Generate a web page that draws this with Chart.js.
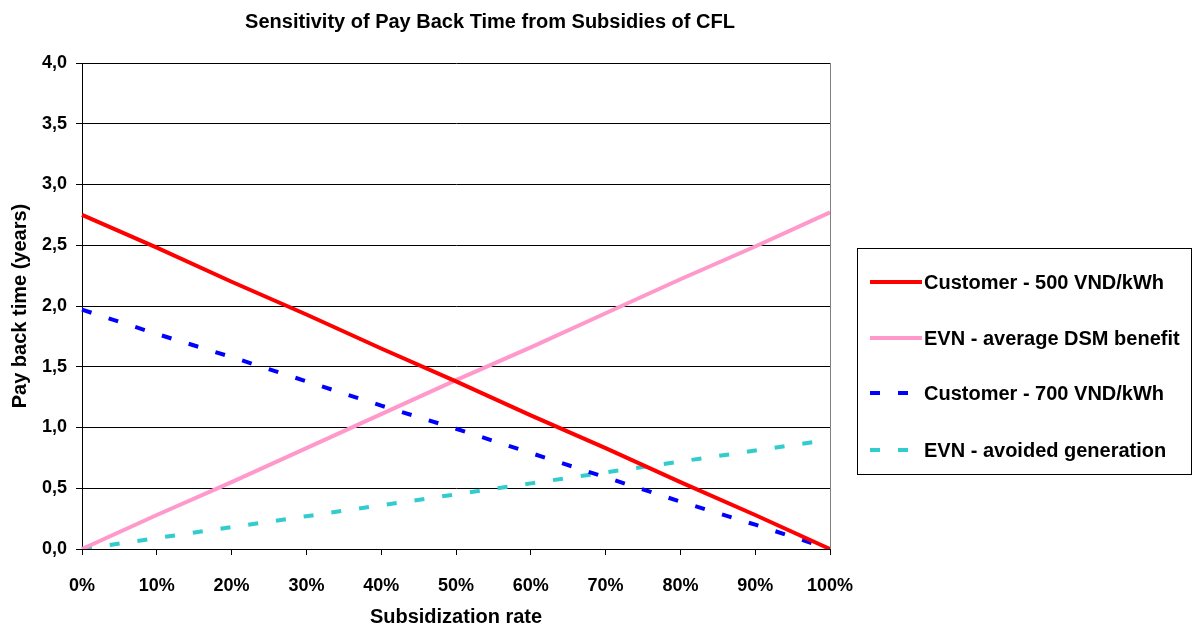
<!DOCTYPE html>
<html>
<head>
<meta charset="utf-8">
<script src="https://cdn.jsdelivr.net/npm/chart.js@4/dist/chart.umd.min.js"></script>
<style>
  html, body { margin: 0; padding: 0; background: #fff; }
  #wrap { width: 1196px; height: 625px; position: relative; }
</style>
</head>
<body>
<div id="wrap"><canvas id="myChart" width="1196" height="625"></canvas></div>
<script>
// subsidization rate (%)
const rates = [0, 10, 20, 30, 40, 50, 60, 70, 80, 90, 100];

// pay back time (years)
const customer500 = [2.75, 2.48, 2.20, 1.93, 1.65, 1.38, 1.10, 0.83, 0.55, 0.28, 0.00];
const evnDsm      = [0.00, 0.28, 0.55, 0.83, 1.11, 1.39, 1.66, 1.94, 2.22, 2.49, 2.77];
const customer700 = [1.97, 1.77, 1.58, 1.38, 1.18, 0.99, 0.79, 0.59, 0.39, 0.20, 0.00];
const evnAvoided  = [0.00, 0.09, 0.18, 0.27, 0.36, 0.45, 0.54, 0.63, 0.72, 0.81, 0.90];

const seriesNames = ["Customer - 500 VND/kWh", "EVN - average DSM benefit",
                     "Customer - 700 VND/kWh", "EVN - avoided generation"];
const titleText = "Sensitivity of Pay Back Time from Subsidies of CFL";

const FONT = "'Liberation Sans', Arial, sans-serif";

// title + boxed legend on the right, like the excel original
const extras = {
  id: "extras",
  afterDraw(chart) {
    const ctx = chart.ctx;
    const a = chart.chartArea;
    ctx.save();
    // right border of plot area
    ctx.strokeStyle = "#808080";
    ctx.lineWidth = 1;
    ctx.beginPath();
    ctx.moveTo(a.right + 0.5, a.top);
    ctx.lineTo(a.right + 0.5, a.bottom);
    ctx.stroke();

    ctx.fillStyle = "#000";
    ctx.font = "bold 20px " + FONT;
    ctx.textAlign = "center";
    ctx.textBaseline = "middle";
    ctx.fillText(titleText, 490, 22);

    // legend box
    ctx.strokeStyle = "#000";
    ctx.strokeRect(857.5, 248.5, 334, 226);
    const rowsY = [282, 338, 393, 450];
    ctx.font = "bold 20px " + FONT;
    ctx.textAlign = "left";
    chart.data.datasets.forEach(function (ds, i) {
      ctx.strokeStyle = ds.borderColor;
      ctx.lineWidth = ds.borderWidth;
      ctx.setLineDash(ds.borderDash || []);
      ctx.beginPath();
      ctx.moveTo(870, rowsY[i]);
      ctx.lineTo(922, rowsY[i]);
      ctx.stroke();
      ctx.setLineDash([]);
      ctx.fillStyle = "#000";
      ctx.fillText(ds.label, 924, rowsY[i] + 1);
    });
    ctx.restore();
  }
};

new Chart("myChart", {
  type: "line",
  data: {
    labels: rates.map(r => r + "%"),
    datasets: [
      { label: seriesNames[0], data: customer500, borderColor: "#FF0000", borderWidth: 4 },
      { label: seriesNames[1], data: evnDsm, borderColor: "#FF99CC", borderWidth: 4 },
      { label: seriesNames[2], data: customer700, borderColor: "#0000FF", borderWidth: 4, borderDash: [10, 18] },
      { label: seriesNames[3], data: evnAvoided, borderColor: "#33CCCC", borderWidth: 4, borderDash: [10, 18] }
    ].map(d => Object.assign(d, { pointRadius: 0, fill: false, tension: 0 }))
  },
  options: {
    responsive: false,
    animation: false,
    layout: { padding: { top: 63, right: 366, left: 0, bottom: 0 } },
    plugins: { legend: { display: false }, title: { display: false }, tooltip: { enabled: false } },
    scales: {
      x: {
        offset: false,
        afterFit: s => { s.height = 76; },
        grid: { drawOnChartArea: false, drawTicks: true, tickLength: 6, color: "#000" },
        border: { color: "#000", width: 1 },
        ticks: { color: "#000", font: { family: FONT, size: 18, weight: "bold" }, padding: 20, maxRotation: 0 },
        title: { display: true, text: "Subsidization rate", color: "#000",
                 font: { family: FONT, size: 20, weight: "bold", lineHeight: 1 }, padding: { top: 0, bottom: -2 } }
      },
      y: {
        min: 0, max: 4,
        afterFit: s => { s.width = 82; },
        ticks: { stepSize: 0.5, color: "#000", padding: 9,
                 font: { family: FONT, size: 18, weight: "bold" },
                 callback: v => v.toFixed(1).replace(".", ",") },
        grid: { color: "#000", lineWidth: 1, tickLength: 6 },
        border: { color: "#000", width: 1 },
        title: { display: true, text: "Pay back time (years)", color: "#000",
                 font: { family: FONT, size: 20, weight: "bold", lineHeight: 1 }, padding: { top: 10, bottom: 0 } }
      }
    }
  },
  plugins: [extras]
});
</script>
</body>
</html>
